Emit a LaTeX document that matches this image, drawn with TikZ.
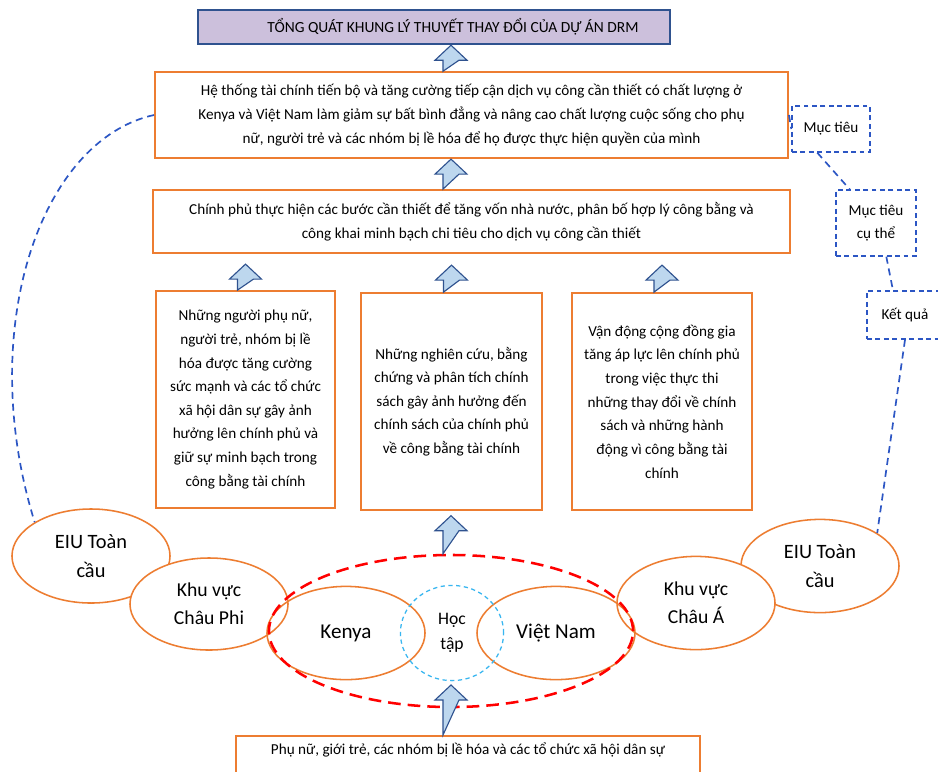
\documentclass[tikz,border=0pt]{standalone}
\usepackage{fontspec}
\setmainfont{Carlito}
\usetikzlibrary{shapes.geometric}
\definecolor{boxorange}{RGB}{237,125,49}
\definecolor{linkblue}{RGB}{44,86,196}
\definecolor{arrowfill}{RGB}{189,215,238}
\definecolor{arrowedge}{RGB}{47,82,143}
\definecolor{titlefill}{RGB}{204,192,220}
\definecolor{learncyan}{RGB}{56,182,240}
\begin{document}
\begin{tikzpicture}[x=0.025cm,y=-0.025cm,
  box/.style={draw=boxorange,line width=1.1pt,align=center,font=\fontsize{10.8}{16.8}\selectfont},
  oval/.style={ellipse,draw=boxorange,line width=1.1pt,align=center,minimum width=3.95cm,minimum height=2.33cm,font=\fontsize{14}{20}\selectfont},
  tag/.style={draw=linkblue,dash pattern=on 3.5pt off 2.5pt,line width=1pt,align=center,font=\fontsize{10.8}{16}\selectfont},
  link/.style={draw=linkblue,dash pattern=on 5pt off 3.5pt,line width=1.2pt},
  uparr/.pic={\draw[draw=arrowedge,fill=arrowfill,line width=0.8pt]
    (-8,0) -- (-8,{-#1+15}) -- (-16,{-#1+15}) -- (0,-#1) -- (16,{-#1+15}) -- (8,{-#1+15}) -- cycle;}]
\useasboundingbox (0,0) rectangle (938,771);
\clip (0,0) rectangle (938,771);
\fill[white] (0,0) rectangle (938,771);

\node[draw=arrowedge,fill=titlefill,line width=1pt,minimum width=11.8cm,minimum height=0.85cm,font=\fontsize{11}{12}\selectfont]
  (title) at (434,27) {\hspace*{0.95cm}TỔNG QUÁT KHUNG LÝ THUYẾT THAY ĐỔI CỦA DỰ ÁN DRM};

\node[box,minimum width=15.83cm,minimum height=2.15cm] (top) at (471.5,115)
  {Hệ thống tài chính tiến bộ và tăng cường tiếp cận dịch vụ công cần thiết có chất lượng ở\\
   Kenya và Việt Nam làm giảm sự bất bình đẳng và nâng cao chất lượng cuộc sống cho phụ\\
   nữ, người trẻ và các nhóm bị lề hóa để họ được thực hiện quyền của mình};
\node[box,minimum width=15.93cm,minimum height=1.58cm] (gov) at (471.5,221.5)
  {Chính phủ thực hiện các bước cần thiết để tăng vốn nhà nước, phân bố hợp lý công bằng và\\
   công khai minh bạch chi tiêu cho dịch vụ công cần thiết};

\node[box,minimum width=4.48cm,minimum height=5.43cm] (women) at (245.5,399.5)
  {Những người phụ nữ,\\ người trẻ, nhóm bị lề\\ hóa được tăng cường\\ sức mạnh và các tổ chức\\
   xã hội dân sự gây ảnh\\ hưởng lên chính phủ và\\ giữ sự minh bạch trong\\ công bằng tài chính};
\node[box,minimum width=4.53cm,minimum height=5.43cm] (research) at (451.5,401.5)
  {Những nghiên cứu, bằng\\ chứng và phân tích chính\\ sách gây ảnh hưởng đến\\ chính sách của chính phủ\\ về công bằng tài chính};
\node[box,minimum width=4.5cm,minimum height=5.43cm] (advocacy) at (662,401.5)
  {Vận động cộng đồng gia\\ tăng áp lực lên chính phủ\\ trong việc thực thi\\ những thay đổi về chính\\
   sách và những hành\\ động vì công bằng tài\\ chính};

\node[oval,fill=white,minimum height=2.35cm,font=\fontsize{14.5}{21}\selectfont] (eiuL) at (91,556) {EIU Toàn\\ cầu};
\node[oval,fill=white,font=\fontsize{14.5}{21}\selectfont] (eiuR) at (820,566) {EIU Toàn\\ cầu};
\node[oval,fill=white,minimum height=2.3cm] (africa) at (209,604) {Khu vực\\ Châu Phi};
\node[oval,fill=white] (asia) at (696,603) {Khu vực\\ Châu Á};
\node[oval,font=\fontsize{15}{20}\selectfont] (kenya) at (346,633) {Kenya};
\node[oval,font=\fontsize{15}{20}\selectfont] (vn) at (556,633) {Việt Nam};
\node[ellipse,draw=learncyan,dash pattern=on 3pt off 2.5pt,line width=0.9pt,minimum width=2.58cm,minimum height=2.38cm,
  align=center,font=\fontsize{12.5}{18}\selectfont] (learn) at (452,633) {Học\\ tập};
\node[ellipse,draw=red,dash pattern=on 9pt off 5pt,line width=1.8pt,minimum width=9.1cm,minimum height=3.8cm] (hub) at (451,631) {};

\node[box,anchor=north,minimum width=11.6cm,text height=0.3cm,text depth=1cm,inner ysep=0.18cm] (civil) at (468,735)
  {Phụ nữ, giới trẻ, các nhóm bị lề hóa và các tổ chức xã hội dân sự};

\node[tag,minimum width=1.95cm,minimum height=1.15cm] (goal) at (831,129) {Mục tiêu};
\node[tag,minimum width=2cm,minimum height=1.65cm] (spec) at (876,223) {Mục tiêu\\ cụ thể};
\node[tag,minimum width=1.9cm,minimum height=1.2cm] (res) at (905,315) {Kết quả};

\pic at (hub |- top.north) {uparr=26};
\pic at (hub |- gov.north) {uparr=30};
\pic at (women.north) {uparr=26};
\pic at (research.north) {uparr=27};
\pic at (advocacy.north) {uparr=27};
\pic at (hub.north) {uparr=38};
\pic at (hub |- civil.north) {uparr=50};

\draw[link] (top.west) .. controls (40,140) and (-25,330) .. (eiuL.149);
\draw[link] (top.east) -- (goal.west);
\draw[link] (goal.240) -- (spec.128);
\draw[link] (spec.287) -- (res.116);
\draw[link] (res.south) -- (eiuR.30);
\end{tikzpicture}
\end{document}
